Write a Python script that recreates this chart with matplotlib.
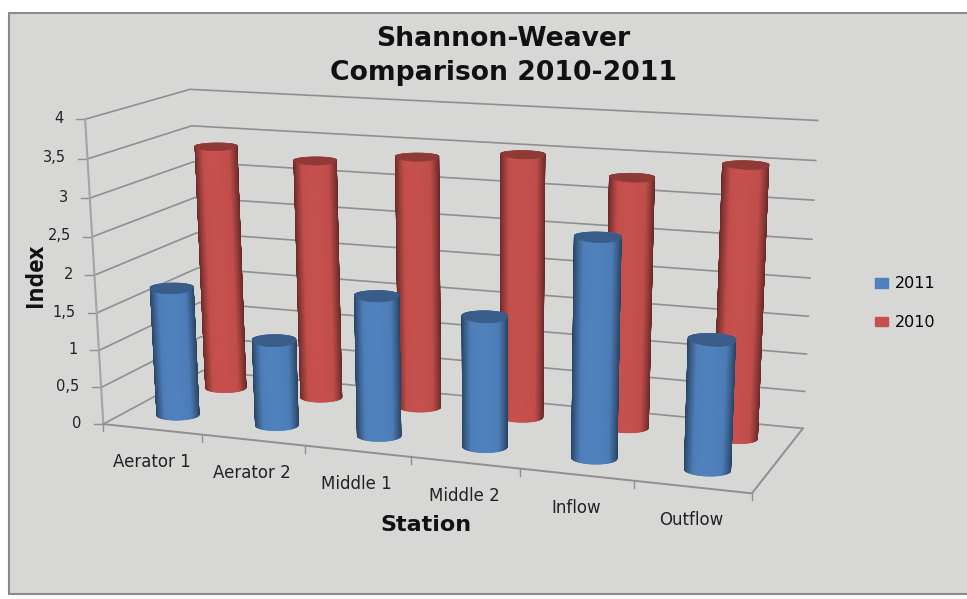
import numpy as np
import matplotlib
matplotlib.use('Agg')
import matplotlib.pyplot as plt
from matplotlib.collections import PolyCollection
from matplotlib.patches import Patch, Polygon, Rectangle

stations = ['Aerator 1', 'Aerator 2', 'Middle 1', 'Middle 2', 'Inflow', 'Outflow']
values_2011 = [1.74, 1.16, 1.86, 1.71, 2.81, 1.66]
values_2010 = [3.37, 3.26, 3.39, 3.5, 3.29, 3.53]
y_ticks = [0, 0.5, 1, 1.5, 2, 2.5, 3, 3.5, 4]
y_tick_labels = ['0', '0,5', '1', '1,5', '2', '2,5', '3', '3,5', '4']

BG = '#d7d7d6'
GRID = '#8f8f8f'
BLUE = np.array([0x4f, 0x81, 0xbd]) / 255
RED = np.array([0xc6, 0x50, 0x4d]) / 255
# ring axes in world units, chosen so the rings read level on the canvas
RING_H = (0.18, 0.073)
RING_V = (-0.075, 0.16)

# world corners (station, depth, value) and where they sit on the canvas
world = np.array([(0, 0, 4), (0, 0, 0), (0, 2, 4), (0, 2, 0), (6, 2, 4), (6, 2, 0),
                  (6, 0, 0), (1, 0, 0), (2, 0, 0), (3, 0, 0), (4, 0, 0), (5, 0, 0)], float)
canvas = np.array([(87, 118), (103, 424), (188, 90), (204, 369), (818, 121), (803, 429),
                   (752, 489), (202, 435), (304, 447), (411, 458), (519, 470), (635, 482)], float)


def fit_camera(w, c):
    rows = []
    for (X, Y, Z), (u, v) in zip(w, c):
        rows.append([X, Y, Z, 1, 0, 0, 0, 0, -u*X, -u*Y, -u*Z, -u])
        rows.append([0, 0, 0, 0, X, Y, Z, 1, -v*X, -v*Y, -v*Z, -v])
    _, _, vt = np.linalg.svd(np.array(rows))
    return vt[-1].reshape(3, 4)


CAM = fit_camera(world, canvas)


def project(X, Y, Z):
    X, Y, Z = np.broadcast_arrays(X, Y, Z)
    p = CAM @ np.vstack([X.ravel(), Y.ravel(), Z.ravel(), np.ones(X.size)])
    return np.column_stack([p[0] / p[2], p[1] / p[2]])


def shade(color, u):
    # dark rims fading into the body, brightest just left of centre
    rim = np.clip(np.minimum(u, 1 - u) / 0.2, 0, 1) ** 0.8
    return np.clip(color * (0.55 + 0.45 * rim) * (0.94 + 0.06 * np.cos((u - 0.45) * np.pi)), 0, 1)


def cylinder(ax, i, depth, value, color, z):
    t = np.linspace(0, 2*np.pi, 241)
    xs = i + 0.5 + RING_H[0] * np.cos(t) + RING_V[0] * np.sin(t)
    ys = depth + RING_H[1] * np.cos(t) + RING_V[1] * np.sin(t)
    base = project(xs, ys, 0)
    top = project(xs, ys, value)
    left, right = base[:, 0].min(), base[:, 0].max()
    # back of the ring first, front strips on top
    order = np.argsort(-np.sin(t[:-1]))
    polys, cols = [], []
    for k in order:
        polys.append([base[k], base[k+1], top[k+1], top[k]])
        cols.append(shade(color, ((base[k, 0] + base[k+1, 0]) / 2 - left) / (right - left)))
    body = PolyCollection(polys, facecolors=cols, edgecolors=cols, linewidths=0.4, zorder=z)
    body.set_snap(False)
    ax.add_collection(body)
    # the cap sags a little further down the front than the ring itself
    sag = np.where(np.sin(t) < 0, 1.5, 1.0)
    cap = project(i + 0.5 + RING_H[0] * np.cos(t) + RING_V[0] * sag * np.sin(t),
                  depth + RING_H[1] * np.cos(t) + RING_V[1] * sag * np.sin(t), value)
    ax.add_patch(Polygon(cap, closed=True, facecolor=color * 0.72, edgecolor=color * 0.72, lw=0.5, zorder=z + 0.1))


def draw_axes(ax):
    for v in y_ticks:
        pts = project([0, 0, 6], [0, 2, 2], v)
        ax.plot(pts[:, 0], pts[:, 1], color=GRID, lw=1.2, zorder=1)
        x0, y0 = project(0, 0, v)[0]
        ax.plot([x0 - 9, x0], [y0, y0], color=GRID, lw=1, zorder=1)
    for v, lab in zip(y_ticks, y_tick_labels):
        x0, y0 = project(0, 0, v)[0]
        ax.text(x0 - 21.5, y0 - 1, lab, ha='right', va='center', fontsize=10.5, color='#222222')
    edge = project([0, 0], [0, 0], [0, 4])
    ax.plot(edge[:, 0], edge[:, 1], color='#a4a4a4', lw=1.5, zorder=1)
    floor = project([0, 6, 6], [0, 0, 2], 0)
    ax.plot(floor[:, 0], floor[:, 1], color=GRID, lw=1.4, zorder=1)
    for i in range(len(stations) + 1):
        x0, y0 = project(i, 0, 0)[0]
        ax.plot([x0, x0], [y0, y0 + 7], color=GRID, lw=1, zorder=1)
    for i, name in enumerate(stations):
        x0, y0 = project(i + 0.5, 0, 0)[0]
        ax.text(x0 - 1, y0 + 33, name, ha='center', va='center', fontsize=12, color='#222222')


def main():
    fig = plt.figure(figsize=(9.67, 5.99), dpi=100, facecolor='white')
    ax = fig.add_axes([0, 0, 1, 1])
    ax.set_xlim(0, 967)
    ax.set_ylim(599, 0)
    ax.axis('off')
    ax.add_patch(Rectangle((9, 13), 970, 581, facecolor=BG, edgecolor='#8a8a8a', lw=1.5, zorder=0))

    draw_axes(ax)
    for i, v in enumerate(values_2010):
        cylinder(ax, i, 1.5, v, RED, 2)
    for i, v in enumerate(values_2011):
        cylinder(ax, i, 0.5, v, BLUE, 3)

    ax.text(503, 56, 'Shannon-Weaver\nComparison 2010-2011', ha='center', va='center', fontsize=19.2,
            weight='bold', color='#111111', linespacing=1.35)
    ax.text(36, 275, 'Index', rotation=90, ha='center', va='center', fontsize=16.5,
            family='Open Sans', weight='bold', color='#111111')
    ax.text(426, 525, 'Station', ha='center', va='center', fontsize=16, weight='bold', color='#111111')

    handles = [Patch(color=BLUE, label='2011'), Patch(color=RED, label='2010')]
    ax.legend(handles=handles, loc='upper left', bbox_to_anchor=(861, 262), bbox_transform=ax.transData,
              frameon=False, fontsize=11.5, handlelength=0.8, handleheight=0.55, handletextpad=0.45,
              labelspacing=1.5)

    fig.savefig('out.png', dpi=100)


if __name__ == '__main__':
    main()
